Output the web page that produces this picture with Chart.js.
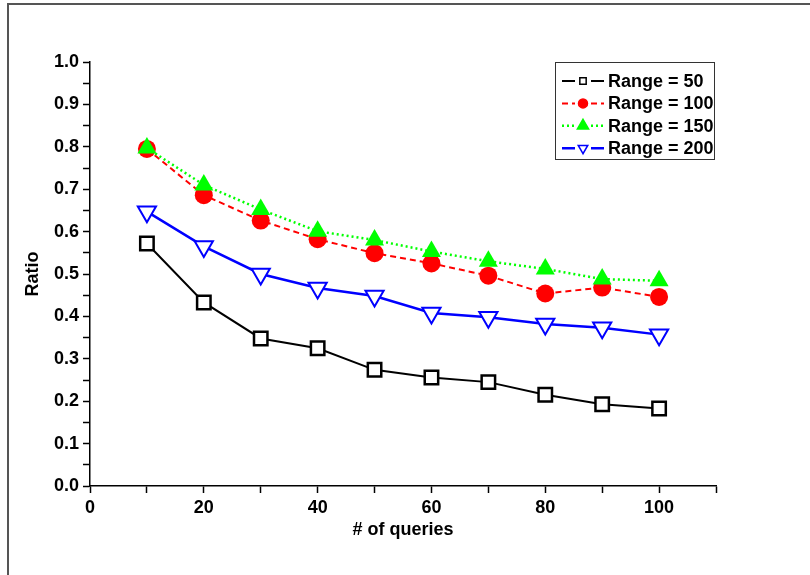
<!DOCTYPE html>
<html>
<head>
<meta charset="utf-8">
<script src="https://cdn.jsdelivr.net/npm/chart.js@4.4.1/dist/chart.umd.min.js"></script>
<style>
  html, body { margin: 0; padding: 0; background: #fff; }
  #frame {
    position: absolute; left: 7px; top: 3px; width: 820px; height: 590px;
    border-top: 2px solid #555; border-left: 2px solid #555;
  }
  #chart { position: absolute; left: 0; top: 0; }
</style>
</head>
<body>
<div id="frame"></div>
<canvas id="chart" width="810" height="575"></canvas>
<script>
// values
const queries = [10, 20, 30, 40, 50, 60, 70, 80, 90, 100];
const range50  = [0.572, 0.433, 0.348, 0.325, 0.274, 0.256, 0.245, 0.215, 0.193, 0.183];
const range100 = [0.795, 0.686, 0.626, 0.582, 0.549, 0.525, 0.496, 0.454, 0.468, 0.446];
const range150 = [0.797, 0.710, 0.652, 0.601, 0.580, 0.553, 0.530, 0.512, 0.488, 0.484];
const range200 = [0.647, 0.565, 0.500, 0.467, 0.448, 0.408, 0.398, 0.382, 0.373, 0.357];
const seriesLabels = ['Range = 50', 'Range = 100', 'Range = 150', 'Range = 200'];
const xTicks = [0, 20, 40, 60, 80, 100];

const FONT = '"Liberation Sans", Arial, sans-serif';
const legendRadius = [4.5, 4.5, 6.5, 5.5];

const toPoints = vals => queries.map((q, i) => ({ x: q, y: vals[i] }));

// legend drawn inside the plot, Origin style (line - marker - line)
const legendBox = {
  id: 'legendBox',
  afterDatasetsDraw(chart) {
    const { ctx, chartArea } = chart;
    const w = 159, h = 97;
    const x0 = chartArea.right - 2 - w, y0 = chartArea.top;
    ctx.save();
    ctx.fillStyle = '#fff';
    ctx.fillRect(x0, y0, w, h);
    ctx.strokeStyle = '#333';
    ctx.lineWidth = 1;
    ctx.setLineDash([]);
    ctx.strokeRect(x0 + 0.5, y0 + 0.5, w, h);
    chart.data.datasets.forEach((ds, i) => {
      const y = y0 + 19 + i * 22.4;
      const mx = x0 + 28;
      ctx.strokeStyle = ds.borderColor;
      ctx.lineWidth = ds.borderWidth;
      ctx.setLineDash(ds.borderDash || []);
      ctx.beginPath();
      ctx.moveTo(x0 + 7, y); ctx.lineTo(mx - 8, y);
      ctx.moveTo(mx + 8, y); ctx.lineTo(x0 + 49, y);
      ctx.stroke();
      ctx.setLineDash([]);
      ctx.fillStyle = ds.pointBackgroundColor;
      ctx.strokeStyle = ds.pointBorderColor;
      ctx.lineWidth = 1.5;
      Chart.helpers.drawPoint(ctx, {
        pointStyle: ds.pointStyle, rotation: ds.pointRotation || 0,
        radius: legendRadius[i], borderWidth: 1.5
      }, mx, y);
      ctx.fillStyle = '#000';
      ctx.font = 'bold 18px ' + FONT;
      ctx.textBaseline = 'middle';
      ctx.textAlign = 'left';
      ctx.fillText(ds.label, x0 + 53, y + 1);
    });
    ctx.restore();
  }
};

new Chart(document.getElementById('chart'), {
  type: 'line',
  data: {
    datasets: [
      {
        label: seriesLabels[0], data: toPoints(range50), order: 0,
        borderColor: '#000', borderWidth: 2,
        pointStyle: 'rect', pointRadius: 9.5, pointBorderWidth: 2.5,
        pointBorderColor: '#000', pointBackgroundColor: '#fff'
      },
      {
        label: seriesLabels[1], data: toPoints(range100), order: 2,
        borderColor: '#ff0000', borderWidth: 2, borderDash: [6, 4],
        pointStyle: 'circle', pointRadius: 9, pointBorderWidth: 0,
        pointBorderColor: '#ff0000', pointBackgroundColor: '#ff0000'
      },
      {
        label: seriesLabels[2], data: toPoints(range150), order: 1,
        borderColor: '#00ff00', borderWidth: 2.5, borderDash: [2, 3],
        pointStyle: 'triangle', pointRadius: 11, pointBorderWidth: 0,
        pointBorderColor: '#00ff00', pointBackgroundColor: '#00ff00'
      },
      {
        label: seriesLabels[3], data: toPoints(range200), order: 0,
        borderColor: '#0000ff', borderWidth: 2.5,
        pointStyle: 'triangle', pointRotation: 180, pointRadius: 10.5, pointBorderWidth: 2,
        pointBorderColor: '#0000ff', pointBackgroundColor: '#fff'
      }
    ]
  },
  options: {
    responsive: false,
    animation: false,
    events: [],
    layout: { padding: { left: 0, top: 62, right: 94, bottom: 0 } },
    plugins: { legend: { display: false }, tooltip: { enabled: false } },
    scales: {
      x: {
        type: 'linear', min: 0, max: 110,
        afterFit: s => { s.height = 89; },
        border: { color: '#000', width: 1.5 },
        grid: { drawOnChartArea: false, tickLength: 7, tickColor: '#000', tickWidth: 1.5 },
        ticks: {
          stepSize: 10, autoSkip: false, maxRotation: 0, padding: 4,
          color: '#000', font: { family: FONT, size: 18, weight: 'bold' },
          callback: v => xTicks.includes(v) ? String(v) : ''
        },
        title: {
          display: true, text: '# of queries', color: '#000',
          font: { family: FONT, size: 18, weight: 'bold' },
          padding: { top: 0, bottom: 34 }
        }
      },
      y: {
        min: 0, max: 1,
        afterFit: s => { s.width = 90; },
        border: { color: '#000', width: 1.5 },
        grid: { drawOnChartArea: false, tickLength: 7, tickColor: '#000', tickWidth: 1.5 },
        ticks: {
          stepSize: 0.05, autoSkip: false, padding: 4,
          color: '#000', font: { family: FONT, size: 18, weight: 'bold' },
          callback: v => Math.round(v * 20) % 2 === 0 ? v.toFixed(1) : ''
        },
        title: {
          display: true, text: 'Ratio', color: '#000',
          font: { family: FONT, size: 18, weight: 'bold' },
          padding: { top: 22, bottom: 0 }
        }
      }
    }
  },
  plugins: [legendBox]
});
</script>
</body>
</html>
